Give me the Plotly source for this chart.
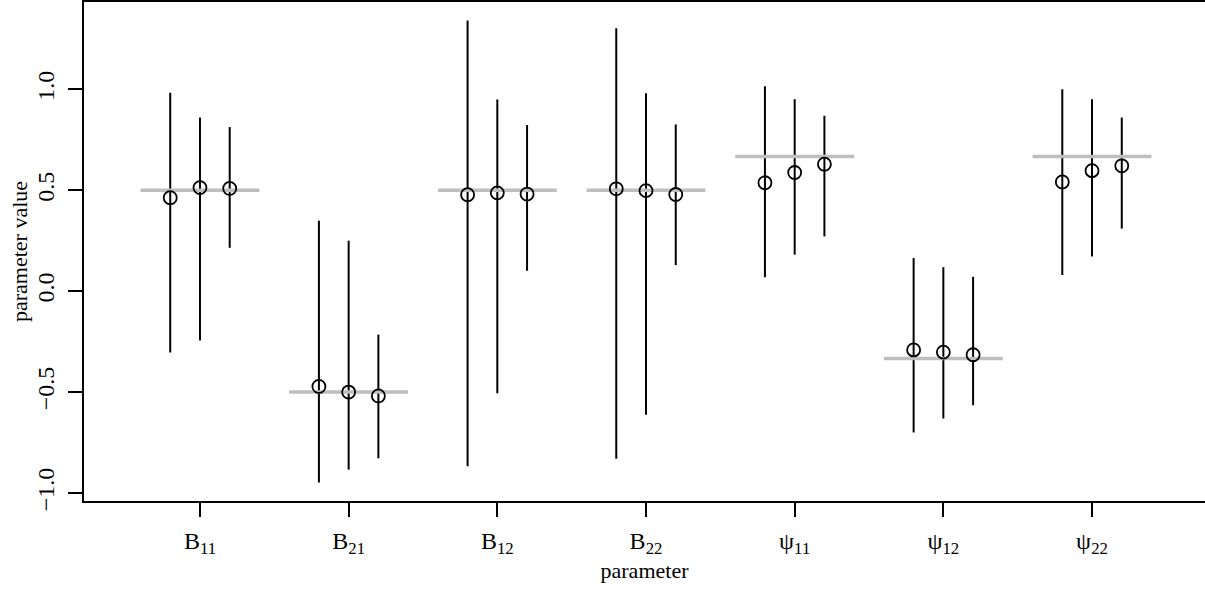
import plotly.graph_objects as go

# ---- data ----
categories = ["B11", "B21", "B12", "B22", "ψ11", "ψ12", "ψ22"]
tick_labels = ["B<sub>11</sub>", "B<sub>21</sub>", "B<sub>12</sub>", "B<sub>22</sub>",
               "ψ<sub>11</sub>", "ψ<sub>12</sub>", "ψ<sub>22</sub>"]
true_values = [0.5, -0.5, 0.5, 0.5, 0.667, -0.333, 0.667]

est1 = [0.463, -0.472, 0.478, 0.507, 0.537, -0.291, 0.541]
est2 = [0.513, -0.500, 0.487, 0.498, 0.588, -0.302, 0.597]
est3 = [0.509, -0.519, 0.481, 0.479, 0.629, -0.315, 0.621]

lower1 = [-0.304, -0.948, -0.868, -0.830, 0.069, -0.700, 0.080]
upper1 = [0.983, 0.349, 1.341, 1.302, 1.015, 0.164, 1.000]
lower2 = [-0.244, -0.884, -0.506, -0.612, 0.181, -0.631, 0.172]
upper2 = [0.860, 0.250, 0.950, 0.981, 0.951, 0.119, 0.951]
lower3 = [0.215, -0.828, 0.101, 0.129, 0.271, -0.565, 0.310]
upper3 = [0.813, -0.215, 0.823, 0.826, 0.869, 0.071, 0.860]

y_ticks = [-1.0, -0.5, 0.0, 0.5, 1.0]
y_tick_text = ["\u22121.0", "\u22120.5", "0.0", "0.5", "1.0"]

# ---- layout constants ----
offsets = [-0.2, 0.0, 0.2]
half_width = 0.4
FONT = "Liberation Serif"
TICK_SIZE = 24
TITLE_SIZE = 22

ests = [est1, est2, est3]
lows = [lower1, lower2, lower3]
ups = [upper1, upper2, upper3]

xpos = list(range(1, len(categories) + 1))

fig = go.Figure()

# vertical interval segments
seg_x, seg_y = [], []
for j, off in enumerate(offsets):
    for i, x in enumerate(xpos):
        seg_x += [x + off, x + off, None]
        seg_y += [lows[j][i], ups[j][i], None]
fig.add_trace(go.Scatter(x=seg_x, y=seg_y, mode="lines",
                         line=dict(color="black", width=2), hoverinfo="skip",
                         showlegend=False))

# grey true-value lines
gx, gy = [], []
for i, x in enumerate(xpos):
    gx += [x - half_width, x + half_width, None]
    gy += [true_values[i], true_values[i], None]
fig.add_trace(go.Scatter(x=gx, y=gy, mode="lines",
                         line=dict(color="#BEBEBE", width=3.5), hoverinfo="skip",
                         showlegend=False))

# point estimates
for j, off in enumerate(offsets):
    fig.add_trace(go.Scatter(x=[x + off for x in xpos], y=ests[j], mode="markers",
                             marker=dict(symbol="circle-open", size=13, color="black",
                                         line=dict(width=1.8, color="black")),
                             showlegend=False))

# axis ranges, R style (4% extension)
xlo, xhi = 0.5, len(categories) + 0.5
xr = xhi - xlo
all_y = lower1 + lower2 + lower3 + upper1 + upper2 + upper3
ylo, yhi = min(all_y), max(all_y)
yr = yhi - ylo

W, H = 1205, 592
ml, mb, mt = 84, 91, 2
plot_w_full = 1124  # width the R plot region would have
x_full = [xlo - 0.04 * xr, xhi + 0.04 * xr]
x_right = x_full[0] + (x_full[1] - x_full[0]) * (W - ml) / plot_w_full

fig.update_layout(
    width=W, height=H,
    margin=dict(l=ml, r=0, t=mt, b=mb),
    paper_bgcolor="white", plot_bgcolor="white",
    font=dict(family=FONT, size=TITLE_SIZE, color="black"),
    xaxis=dict(range=[x_full[0], x_right], tickmode="array", tickvals=xpos,
               ticktext=tick_labels, showgrid=False, zeroline=False,
               showline=True, linecolor="black", linewidth=2, mirror=True,
               ticks="outside", ticklen=14, tickwidth=2, tickcolor="black",
               ticklabelstandoff=3,
               tickfont=dict(family=FONT, size=TICK_SIZE, color="black"),
               title=dict(text="parameter", font=dict(family=FONT, size=TITLE_SIZE),
                          standoff=0)),
    yaxis=dict(range=[ylo - 0.04 * yr, yhi + 0.04 * yr], tickmode="array",
               tickvals=y_ticks, ticktext=y_tick_text, tickangle=-90,
               showgrid=False, zeroline=False,
               showline=True, linecolor="black", linewidth=2, mirror=False,
               ticks="outside", ticklen=14, tickwidth=2, tickcolor="black",
               ticklabelstandoff=4,
               tickfont=dict(family=FONT, size=TICK_SIZE, color="black"),
               title=dict(text="parameter value", font=dict(family=FONT, size=TITLE_SIZE),
                          standoff=0)),
)

fig.write_html("out.html", config={"displayModeBar": False},
               post_script="document.body.style.margin='0';document.body.style.overflow='hidden';")
